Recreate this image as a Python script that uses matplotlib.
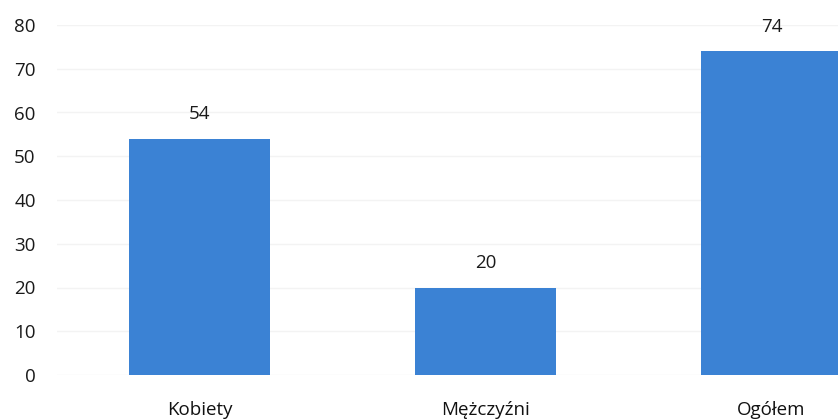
import matplotlib.pyplot as plt

categories = ["Kobiety", "Mężczyźni", "Ogółem"]
values = [54, 20, 74]
yticks = [0, 10, 20, 30, 40, 50, 60, 70, 80]

plt.rcParams['font.family'] = ['Open Sans', 'DejaVu Sans']

fig = plt.figure(figsize=(8.38, 4.19), dpi=100)
ax = fig.add_axes([56.5 / 838, 44 / 419, 1 - 56.5 / 838, 350 / 419])

x = range(len(categories))
bars = ax.bar(x, values, width=0.494, color='#3b82d4', zorder=2)

# value labels above bars
for xi, v in zip(x, values):
    ax.annotate(str(v), (xi, v), xytext=(0, 11), textcoords='offset points',
                ha='center', va='bottom', fontsize=13.5, color='#1a1a1a')

ax.set_xlim(-0.5, (838 - 199.5) / 286)
ax.set_ylim(0, 80)
ax.set_yticks(yticks)
ax.set_xticks(list(x))
ax.set_xticklabels(categories)
ax.tick_params(axis='y', length=0, pad=15, labelsize=13.5, labelcolor='#1a1a1a')
ax.tick_params(axis='x', length=0, pad=19, labelsize=13.5, labelcolor='#111111')
ax.grid(axis='y', color='#f3f3f3', linewidth=1, zorder=0)
for s in ax.spines.values():
    s.set_visible(False)

fig.savefig("out.png", dpi=100)
